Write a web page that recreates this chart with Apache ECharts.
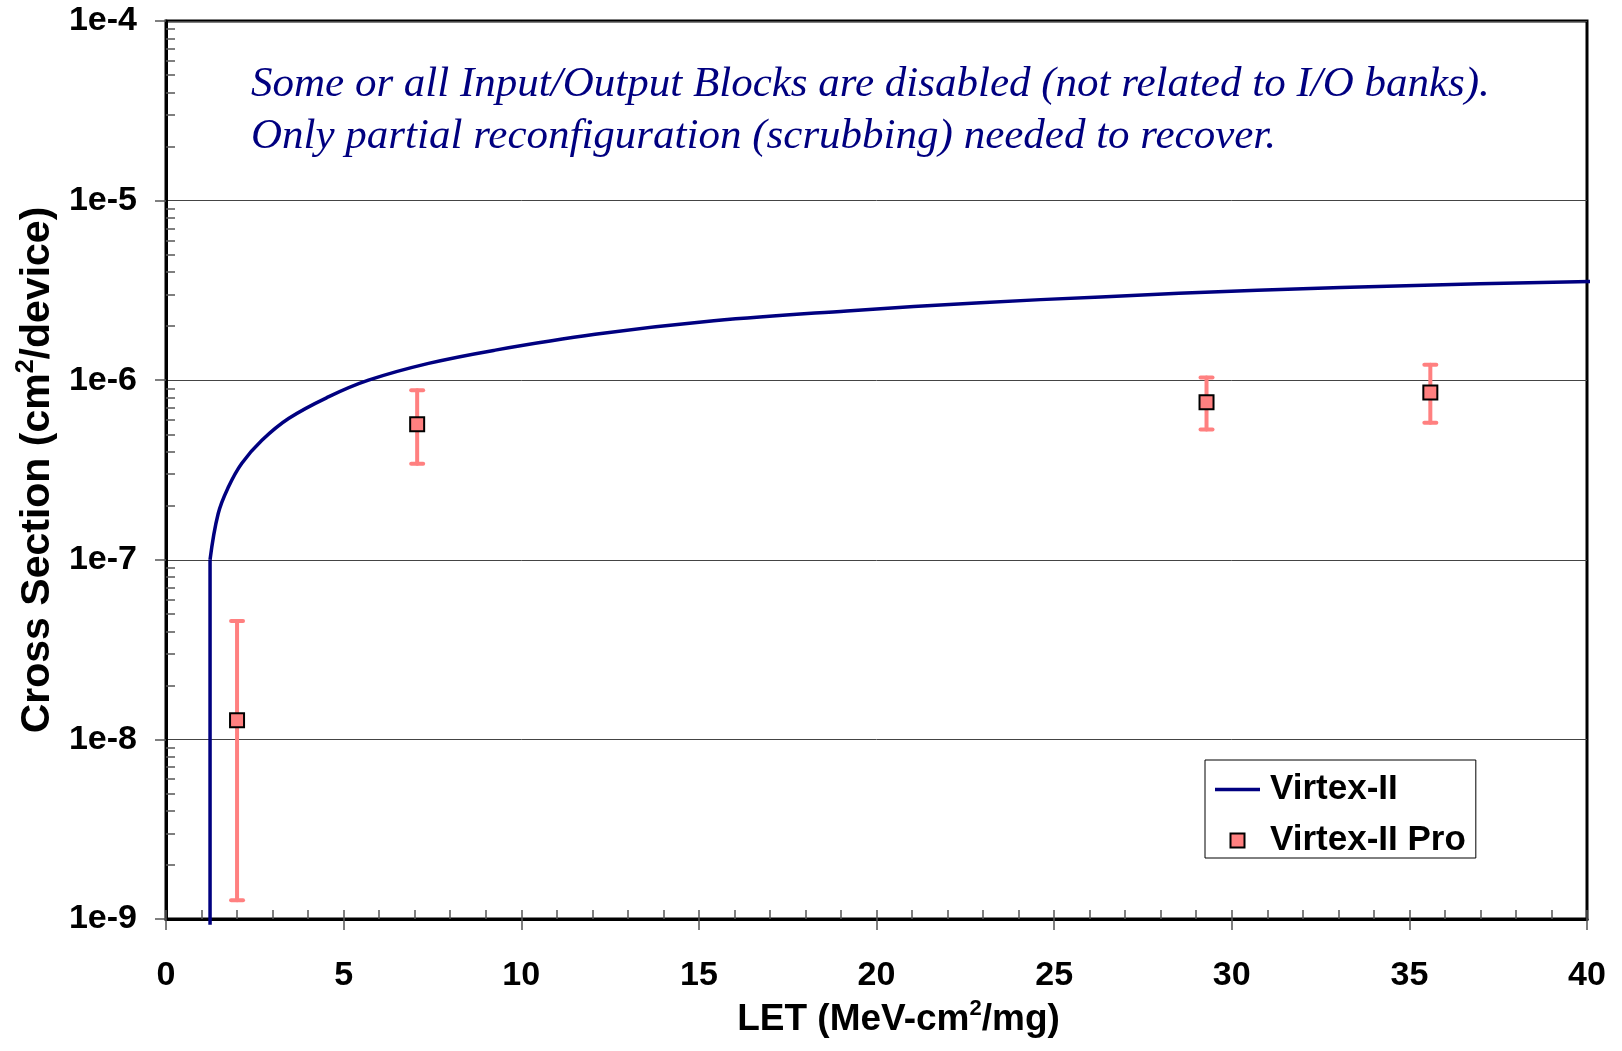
<!DOCTYPE html>
<html>
<head>
<meta charset="utf-8">
<title>Cross Section vs LET</title>
<script src="https://cdn.jsdelivr.net/npm/echarts@6.0.0/dist/echarts.min.js"></script>
<style>
    html, body { margin: 0; padding: 0; background: #fff; }
    #main { width: 1622px; height: 1051px; }
</style>
</head>
<body>
<div id="main"></div>
<script>
    // Virtex-II fit curve
    var fitStepLET = [1.24, 1.24];
    var fitStepSigma = [9.3e-10, 1.0e-7];
    var fitLET = [1.24, 1.47, 1.76, 2.13, 2.70, 3.45, 4.57, 5.70, 7.39, 9.27, 12.08, 15.42, 19.17, 22.93, 26.31, 30.72, 35.42, 40.2];
    var fitSigma = [1.0e-7, 1.81e-7, 2.55e-7, 3.44e-7, 4.63e-7, 6.12e-7, 8.07e-7, 1.0e-6, 1.24e-6, 1.47e-6, 1.80e-6, 2.14e-6, 2.43e-6, 2.70e-6, 2.91e-6, 3.17e-6, 3.38e-6, 3.55e-6];

    // Virtex-II Pro measurements with error bars
    var proLET = [2.0, 7.07, 29.29, 35.59];
    var proSigma = [1.28e-8, 5.68e-7, 7.54e-7, 8.54e-7];
    var proLow = [1.27e-9, 3.43e-7, 5.31e-7, 5.8e-7];
    var proHigh = [4.56e-8, 8.8e-7, 1.035e-6, 1.22e-6];

    var yTicks = [1e-9, 1e-8, 1e-7, 1e-6, 1e-5, 1e-4];
    var yTickLabels = ['1e-9', '1e-8', '1e-7', '1e-6', '1e-5', '1e-4'];

    var noteLines = [
        'Some or all Input/Output Blocks are disabled (not related to I/O banks).',
        'Only partial reconfiguration (scrubbing) needed to recover.'
    ];

    var sans = '"Liberation Sans", Arial, sans-serif';
    var navy = '#000080';
    var pink = '#ff8080';

    // minor ticks of the log axis, 2..9 in each decade
    var minorLog = [];
    for (var e = -9; e < -4; e++) {
        for (var k = 2; k < 10; k++) {
            minorLog.push(Math.log10(k) + e);
        }
    }

    var option = {
        backgroundColor: '#fff',
        animation: false,
        grid: {
            left: 166,
            top: 21,
            right: 35,
            bottom: 132,
            show: true,
            borderColor: '#000',
            borderWidth: 3,
            outerBoundsMode: 'none'
        },
        legend: {
            data: [
                { name: 'Virtex-II', icon: 'path://M0,0L45,0L45,3.5L0,3.5Z' },
                { name: 'Virtex-II Pro', icon: 'path://M0,0L10,0L10,10L0,10Z', itemStyle: { borderColor: '#000', borderWidth: 2 } }
            ],
            orient: 'vertical',
            left: 1205,
            top: 760,
            itemWidth: 45,
            itemHeight: 14,
            itemGap: 16,
            symbolKeepAspect: true,
            padding: [12, 10, 0, 10],
            borderColor: '#000',
            borderWidth: 1,
            backgroundColor: '#fff',
            textStyle: {
                fontFamily: sans,
                fontWeight: 'bold',
                fontSize: 35,
                lineHeight: 34,
                color: '#000',
                padding: [0, 0, 0, 5]
            }
        },
        xAxis: [{
            type: 'value',
            min: 0,
            max: 40,
            interval: 5,
            position: 'bottom',
            name: '{a|LET (MeV-cm}{s|2}{a|/mg)}',
            nameLocation: 'middle',
            nameGap: 70,
            nameTextStyle: {
                padding: [0, 0, 0, 44],
                rich: {
                    a: { fontFamily: sans, fontWeight: 'bold', fontSize: 37, lineHeight: 44, color: '#000' },
                    s: { fontFamily: sans, fontWeight: 'bold', fontSize: 22, lineHeight: 44, verticalAlign: 'top', color: '#000' }
                }
            },
            axisLine: { lineStyle: { color: '#000', width: 3 } },
            axisTick: { length: 11, lineStyle: { color: '#555', width: 1.5 } },
            axisLabel: { margin: 40, fontFamily: sans, fontWeight: 'bold', fontSize: 34, color: '#000' },
            splitLine: { show: false }
        }, {
            type: 'value',
            min: 0,
            max: 40,
            interval: 1,
            position: 'bottom',
            axisLine: { show: false },
            axisTick: { inside: true, length: 9, lineStyle: { color: '#555', width: 1.5 } },
            axisLabel: { show: false },
            splitLine: { show: false }
        }],
        yAxis: [{
            type: 'log',
            logBase: 10,
            min: 1e-9,
            max: 1e-4,
            position: 'left',
            name: '{a|Cross Section (cm}{s|2}{a|/device)}',
            nameLocation: 'middle',
            nameRotate: 90,
            nameGap: 101,
            nameTextStyle: {
                rich: {
                    a: { fontFamily: sans, fontWeight: 'bold', fontSize: 41, lineHeight: 48, color: '#000' },
                    s: { fontFamily: sans, fontWeight: 'bold', fontSize: 25, lineHeight: 48, verticalAlign: 'top', color: '#000' }
                }
            },
            axisLine: { lineStyle: { color: '#000', width: 3 } },
            axisTick: { length: 11, lineStyle: { color: '#555', width: 1.5 } },
            axisLabel: {
                margin: 29,
                fontFamily: sans,
                fontWeight: 'bold',
                fontSize: 34,
                color: '#000',
                formatter: function (v) {
                    var i = yTicks.indexOf(v);
                    return i >= 0 ? yTickLabels[i] : '1e' + Math.round(Math.log10(v));
                }
            },
            splitLine: { show: true, lineStyle: { color: '#444', width: 1 } }
        }, {
            type: 'value',
            min: -9,
            max: -4,
            position: 'left',
            axisLine: { show: false },
            axisTick: { inside: true, length: 9, customValues: minorLog, lineStyle: { color: '#555', width: 1.5 } },
            axisLabel: { show: false },
            splitLine: { show: false }
        }],
        graphic: [{
            type: 'text',
            left: 251,
            top: 59,
            style: {
                text: noteLines.join('\n'),
                fontFamily: '"Liberation Serif", "Times New Roman", serif',
                fontStyle: 'italic',
                fontSize: 43,
                lineHeight: 52,
                fill: navy
            }
        }],
        series: [{
            name: 'Virtex-II',
            type: 'line',
            symbol: 'none',
            clip: false,
            lineStyle: { color: navy, width: 3.5 },
            itemStyle: { color: navy },
            data: fitStepLET.map(function (x, i) { return [x, fitStepSigma[i]]; })
        }, {
            name: 'Virtex-II',
            type: 'line',
            symbol: 'none',
            smooth: 0.4,
            clip: false,
            lineStyle: { color: navy, width: 3.5 },
            itemStyle: { color: navy },
            data: fitLET.map(function (x, i) { return [x, fitSigma[i]]; })
        }, {
            name: 'err',
            type: 'custom',
            encode: { x: 0, y: [1, 2] },
            data: proLET.map(function (x, i) { return [x, proLow[i], proHigh[i]]; }),
            renderItem: function (params, api) {
                var x = api.value(0);
                var lo = api.coord([x, api.value(1)]);
                var hi = api.coord([x, api.value(2)]);
                var cap = 6;
                var st = { stroke: pink, lineWidth: 4, lineCap: 'round' };
                return {
                    type: 'group',
                    children: [
                        { type: 'line', shape: { x1: lo[0], y1: lo[1], x2: hi[0], y2: hi[1] }, style: st },
                        { type: 'line', shape: { x1: hi[0] - cap, y1: hi[1], x2: hi[0] + cap, y2: hi[1] }, style: st },
                        { type: 'line', shape: { x1: lo[0] - cap, y1: lo[1], x2: lo[0] + cap, y2: lo[1] }, style: st }
                    ]
                };
            }
        }, {
            name: 'Virtex-II Pro',
            type: 'scatter',
            symbol: 'rect',
            symbolSize: 14,
            itemStyle: { color: pink, borderColor: '#000', borderWidth: 2, opacity: 1 },
            data: proLET.map(function (x, i) { return [x, proSigma[i]]; })
        }]
    };

    var myChart = echarts.init(document.getElementById('main'));
    myChart.setOption(option);
</script>
</body>
</html>
